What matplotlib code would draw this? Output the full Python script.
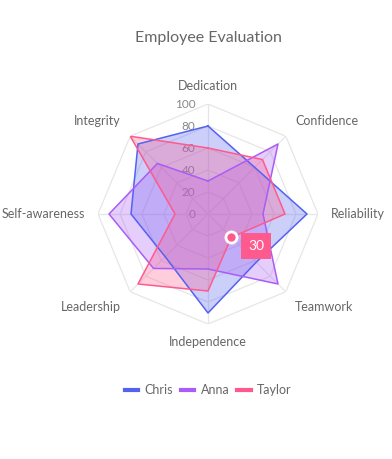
import numpy as np
import matplotlib
matplotlib.use("Agg")
import matplotlib.pyplot as plt
from matplotlib.lines import Line2D

categories = ["Dedication", "Confidence", "Reliability", "Teamwork",
              "Independence", "Leadership", "Self-awareness", "Integrity"]
chris = [80, 60, 90, 62, 90, 55, 70, 90]
anna = [30, 90, 50, 90, 50, 70, 90, 65]
taylor = [60, 70, 70, 30, 70, 90, 30, 100]
series_names = ["Chris", "Anna", "Taylor"]
series_values = [chris, anna, taylor]
series_colors = ["#5462F0", "#AA5CF6", "#FF5A8E"]
ticks = [0, 20, 40, 60, 80, 100]

plt.rcParams['font.family'] = ['Lato', 'DejaVu Sans']

W, H = 392, 459
fig = plt.figure(figsize=(W / 100, H / 100), dpi=100)
cx, cy, R = 208, 214, 110
ax = fig.add_axes([(cx - R) / W, 1 - (cy + R) / H, 2 * R / W, 2 * R / H], projection='polar')
ax.set_theta_zero_location('N')
ax.set_theta_direction(-1)
ax.set_ylim(0, 100)
ax.set_axis_off()

n = len(categories)
theta = np.arange(n) * 2 * np.pi / n
theta_c = np.append(theta, theta[0])

grid_col = "#e6e6e6"
for t in ticks[1:]:
    ax.plot(theta_c, [t] * (n + 1), color=grid_col, lw=0.9, zorder=1)
for th in theta:
    ax.plot([th, th], [0, 100], color=grid_col, lw=0.9, zorder=1)

for t in ticks:
    ax.annotate(str(t), xy=(0, t), xytext=(-9, 0), textcoords='offset points',
                ha='right', va='center', fontsize=8.5, color='#888888', zorder=2)

for name, vals, col in zip(series_names, series_values, series_colors):
    v = np.append(vals, vals[0])
    ax.fill(theta_c, v, color=col, alpha=0.3, zorder=3, lw=0)
    ax.plot(theta_c, v, color=col, lw=1.1, zorder=4)

# category labels
for i, (th, lab) in enumerate(zip(theta, categories)):
    dx = np.sin(th)
    dy = np.cos(th)
    if abs(dx) < 1e-6:
        ha = 'center'
    elif dx > 0:
        ha = 'left'
    else:
        ha = 'right'
    if abs(dy) < 1e-6:
        va = 'center'
    elif dy > 0:
        va = 'bottom'
    else:
        va = 'top'
    off = 8
    ax.annotate(lab, xy=(th, 100), xytext=(dx * off + (0 if ha == 'center' else np.sign(dx) * 1),
                                           dy * off + (np.sign(dy) * 1 if va != 'center' else 0)),
                textcoords='offset points', ha=ha, va=va, fontsize=9,
                color='#666666', annotation_clip=False)

# hovered point: Taylor / Teamwork
hi = categories.index("Teamwork")
ax.plot([theta[hi]], [taylor[hi]], marker='o', ms=8, mfc=series_colors[2],
        mec='white', mew=2, zorder=6, clip_on=False)
ax.annotate(str(taylor[hi]), xy=(theta[hi], taylor[hi]), xytext=(12, -6),
            textcoords='offset points', ha='left', va='center', fontsize=10,
            color='white', zorder=7,
            bbox=dict(boxstyle='square,pad=0.5', fc=series_colors[2], ec='none'))

fig.text(208 / W, 1 - 38 / H, "Employee Evaluation", ha='center', va='center',
         fontsize=11.5, color='#666666')

handles = [Line2D([0], [0], color=c, lw=3) for c in series_colors]
fig.legend(handles, series_names, loc='center', bbox_to_anchor=(208 / W, 1 - 390 / H),
           ncol=3, frameon=False, fontsize=9, handlelength=1.1, handletextpad=0.5,
           columnspacing=0.6, labelcolor='#666666')

fig.savefig("out.png", dpi=100)
